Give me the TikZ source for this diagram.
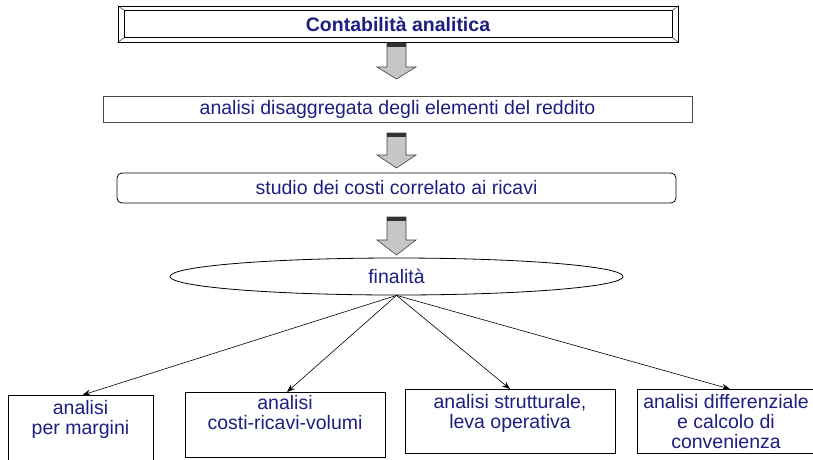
\documentclass[tikz,border=0pt]{standalone}
\usepackage{fontspec}
\setmainfont{Liberation Sans}
\usetikzlibrary{positioning,shapes.geometric,arrows.meta}
\definecolor{txtblue}{RGB}{30,30,130}

\begin{document}
\begin{tikzpicture}[x=1pt, y=-1pt,
    every node/.style={font=\fontsize{19.5}{20}\selectfont, text=txtblue, inner sep=0pt},
    box/.style={draw, line width=0.8pt},
    outbox/.style={draw, line width=0.8pt, anchor=north},
    fatarrow/.style={fill=gray!45, draw=gray!50!black, line width=0.6pt},
    link/.style={-{Stealth[length=8pt, width=6pt]}, line width=0.6pt}]
        \useasboundingbox (0,0) rectangle (813,459);

        % Define nodes
        \node[box, minimum width=560, minimum height=36] (title) at (398,24) {\bfseries Contabilità analitica};
        \node[box, draw=gray!60!black, minimum width=589, minimum height=26] (redd) at (397.5,109) {analisi disaggregata degli elementi del reddito};
        \node[box, rounded corners=5pt, minimum width=559, minimum height=30] (costi) at (396.5,188) {studio dei costi correlato ai ricavi};
        \node[box, ellipse, minimum width=453, minimum height=37] (fin) at (396.5,276.5) {finalità};

        \node[outbox, minimum width=145, minimum height=68] (m1) at (80.5,395) {};
        \node[outbox, minimum width=200, minimum height=65] (m2) at (285,392) {};
        \node[outbox, minimum width=210, minimum height=64] (m3) at (510,389) {};
        \node[outbox, minimum width=178, minimum height=64] (m4) at (726,389) {};

        \node[anchor=north, align=center] at ([yshift=-5pt]m1.north) {analisi\\per margini};
        \node[anchor=north, align=center] at ([yshift=-3pt]m2.north) {analisi\\costi-ricavi-volumi};
        \node[anchor=north, align=center] at ([yshift=-5pt]m3.north) {analisi strutturale,\\leva operativa};
        \node[anchor=north, align=center] at ([yshift=-5pt]m4.north) {analisi differenziale\\e calcolo di\\convenienza};

        % Bevel of the title box
        \draw ([xshift=7pt, yshift=-5pt]title.north west) rectangle ([xshift=-6pt, yshift=5pt]title.south east);
        \draw (title.north west) -- ([xshift=7pt, yshift=-5pt]title.north west);
        \draw (title.south west) -- ([xshift=7pt, yshift=5pt]title.south west);
        \draw (title.north east) -- ([xshift=-6pt, yshift=-5pt]title.north east);
        \draw (title.south east) -- ([xshift=-6pt, yshift=5pt]title.south east);

        % Block arrows
        \foreach \t/\n/\p in {43/67/79, 133/155/168, 217/240/255} {
            \filldraw[fatarrow] (387,\t) -- (406,\t) -- (406,\n) -- (416,\n) -- (396.5,\p) -- (377,\n) -- (387,\n) -- cycle;
            \fill[black!80] (387,\t) rectangle (406,{\t+4});
        }

        % Connect the nodes
        \draw[link] (fin.south) -- ([xshift=2pt]m1.north);
        \draw[link] (fin.south) -- ([xshift=2pt]m2.north);
        \draw[link] (fin.south) -- (m3.north);
        \draw[link] (fin.south) -- ([xshift=4pt]m4.north);

    \end{tikzpicture}
\end{document}
